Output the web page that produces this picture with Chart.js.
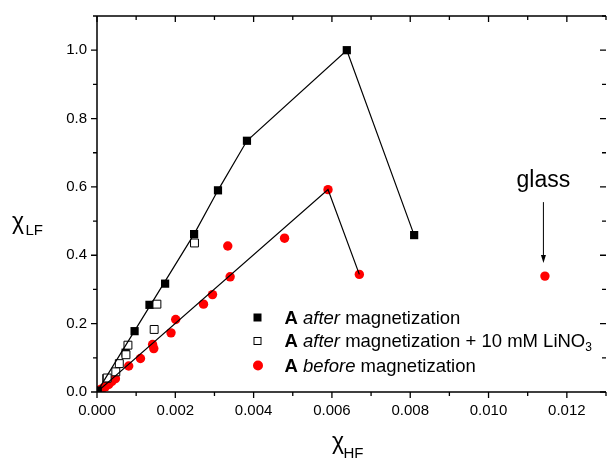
<!DOCTYPE html>
<html>
<head>
<meta charset="utf-8">
<script src="https://cdn.jsdelivr.net/npm/chart.js@4"></script>
<style>
html, body { margin: 0; padding: 0; background: #fff; }
</style>
</head>
<body>
<canvas id="scatterChart" width="607" height="459"></canvas>
<script>
// A after magnetization (filled squares)
var afterX = [0.00002, 0.00024, 0.00073, 0.00096, 0.00134, 0.00174, 0.00248, 0.00309, 0.00383, 0.00638, 0.00810];
var afterY = [0.004, 0.040, 0.115, 0.178, 0.255, 0.317, 0.462, 0.590, 0.735, 1.000, 0.459];
// A after magnetization + 10 mM LiNO3 (open squares)
var lino3X = [0.00026, 0.00048, 0.00057, 0.00074, 0.00079, 0.00146, 0.00153, 0.00249];
var lino3Y = [0.041, 0.059, 0.083, 0.109, 0.137, 0.183, 0.257, 0.436];
// A before magnetization (red circles)
var beforeX = [0.00002, 0.00008, 0.00013, 0.00021, 0.00030, 0.00038, 0.00047, 0.00081, 0.00111, 0.00142, 0.00145, 0.00189, 0.00201, 0.00272, 0.00295, 0.00334, 0.00340, 0.00479, 0.00590, 0.00670];
var beforeY = [0.003, 0.006, 0.010, 0.015, 0.022, 0.031, 0.039, 0.076, 0.098, 0.139, 0.127, 0.173, 0.212, 0.257, 0.285, 0.427, 0.337, 0.450, 0.592, 0.344];
// glass
var glassX = [0.01144];
var glassY = [0.339];
// guide lines
var afterLineX = [0, 0.00248, 0.00309, 0.00383, 0.00638, 0.00810];
var afterLineY = [0, 0.462, 0.590, 0.735, 1.000, 0.459];
var beforeLineX = [0, 0.00590, 0.00670];
var beforeLineY = [0, 0.592, 0.344];
// ticks
var xTicks = [0, 0.002, 0.004, 0.006, 0.008, 0.010, 0.012];
var yTicks = [0, 0.2, 0.4, 0.6, 0.8, 1.0];
var xMinorStep = 0.001, yMinorStep = 0.1;

function pts(xs, ys) {
    return xs.map(function (x, i) { return {x: x, y: ys[i]}; });
}

var FONT = '"Liberation Sans", Arial, sans-serif';
var RED = 'rgb(255, 0, 0)';

// frame, tick marks, axis titles, legend and the glass note
var extras = {
    id: 'extras',
    afterDraw: function (chart) {
        var ctx = chart.ctx, a = chart.chartArea;
        var xs = chart.scales.x, ys = chart.scales.y;
        ctx.save();
        ctx.strokeStyle = '#000';
        ctx.fillStyle = '#000';
        ctx.lineWidth = 1.5;
        ctx.beginPath();
        ctx.moveTo(a.left, a.top); ctx.lineTo(a.right, a.top);
        ctx.moveTo(a.left, a.top); ctx.lineTo(a.left, a.bottom);
        ctx.moveTo(a.left, a.bottom); ctx.lineTo(a.right, a.bottom);
        ctx.stroke();

        ctx.lineWidth = 1.3;
        ctx.beginPath();
        var i, v, p, len;
        for (i = 0; i <= 13; i++) {
            v = i * xMinorStep;
            p = xs.getPixelForValue(v);
            len = (i % 2 === 0) ? 6 : 4;
            ctx.moveTo(p, a.bottom); ctx.lineTo(p, a.bottom + len);
            ctx.moveTo(p, a.top); ctx.lineTo(p, a.top + len);
        }
        for (i = 0; i <= 11; i++) {
            v = i * yMinorStep;
            p = ys.getPixelForValue(v);
            len = (i % 2 === 0) ? 6 : 4;
            ctx.moveTo(a.left, p); ctx.lineTo(a.left - len, p);
            ctx.moveTo(a.right, p); ctx.lineTo(a.right - len, p);
        }
        ctx.stroke();

        // axis titles
        ctx.textAlign = 'left';
        ctx.textBaseline = 'alphabetic';
        ctx.font = '23px ' + FONT;
        ctx.fillText('χ', 12, 229);
        ctx.font = '15px ' + FONT;
        ctx.fillText('LF', 25.5, 235);
        ctx.font = '23px ' + FONT;
        ctx.fillText('χ', 332, 449);
        ctx.font = '15px ' + FONT;
        ctx.fillText('HF', 343.5, 458);

        // legend
        var lx = 257.5, tx = 284.5;
        var rows = [317.5, 341, 365.5];
        ctx.fillStyle = '#000';
        ctx.fillRect(lx - 4, rows[0] - 4, 8, 8);
        ctx.fillStyle = '#fff';
        ctx.fillRect(lx - 4, rows[1] - 4, 8, 8);
        ctx.lineWidth = 1;
        ctx.strokeRect(lx - 3.5, rows[1] - 3.5, 7, 7);
        ctx.fillStyle = RED;
        ctx.beginPath();
        ctx.arc(lx + 0.5, rows[2], 5, 0, Math.PI * 2);
        ctx.fill();

        function line(y, parts) {
            var x = tx;
            ctx.fillStyle = '#000';
            parts.forEach(function (pt) {
                ctx.font = pt[1] + ' ' + FONT;
                ctx.fillText(pt[0], x, y + (pt[2] || 0));
                x += ctx.measureText(pt[0]).width;
            });
        }
        line(rows[0] + 6, [['A ', 'bold 18.5px'], ['after', 'italic 18.5px'], [' magnetization', '18.5px']]);
        line(rows[1] + 6, [['A ', 'bold 18.5px'], ['after', 'italic 18.5px'], [' magnetization + 10 mM LiNO', '18.5px'], ['3', '12px', 4]]);
        line(rows[2] + 6, [['A ', 'bold 18.5px'], ['before', 'italic 18.5px'], [' magnetization', '18.5px']]);

        // glass note with arrow
        var gx = xs.getPixelForValue(glassX[0]) - 1.5;
        var gy = ys.getPixelForValue(glassY[0]);
        ctx.fillStyle = '#000';
        ctx.font = '23px ' + FONT;
        ctx.textAlign = 'center';
        ctx.fillText('glass', gx, gy - 89);
        ctx.lineWidth = 1;
        ctx.beginPath();
        ctx.moveTo(gx, gy - 74);
        ctx.lineTo(gx, gy - 20);
        ctx.stroke();
        ctx.beginPath();
        ctx.moveTo(gx - 2.5, gy - 21);
        ctx.lineTo(gx + 2.5, gy - 21);
        ctx.lineTo(gx, gy - 13);
        ctx.closePath();
        ctx.fill();
        ctx.restore();
    }
};

function noPad(s) {
    s.paddingLeft = 0; s.paddingRight = 0;
    s.paddingTop = 0; s.paddingBottom = 0;
}

var ctx = document.getElementById('scatterChart').getContext('2d');
var scatterChart = new Chart(ctx, {
    type: 'scatter',
    data: {
        datasets: [{
            label: 'after line',
            data: pts(afterLineX, afterLineY),
            showLine: true,
            borderColor: '#000',
            borderWidth: 1.2,
            pointRadius: 0,
            tension: 0
        }, {
            label: 'before line',
            data: pts(beforeLineX, beforeLineY),
            showLine: true,
            borderColor: '#000',
            borderWidth: 1.2,
            pointRadius: 0,
            tension: 0
        }, {
            label: 'A after magnetization + 10 mM LiNO3',
            data: pts(lino3X, lino3Y),
            pointStyle: 'rect',
            pointRadius: 5.6,
            backgroundColor: '#fff',
            borderColor: '#000',
            borderWidth: 1
        }, {
            label: 'A after magnetization',
            data: pts(afterX, afterY),
            pointStyle: 'rect',
            pointRadius: 5.8,
            backgroundColor: '#000',
            borderWidth: 0
        }, {
            label: 'A before magnetization',
            data: pts(beforeX, beforeY),
            pointStyle: 'circle',
            pointRadius: 4.7,
            backgroundColor: RED,
            borderWidth: 0
        }, {
            label: 'glass',
            data: pts(glassX, glassY),
            pointStyle: 'circle',
            pointRadius: 4.7,
            backgroundColor: RED,
            borderWidth: 0
        }]
    },
    options: {
        responsive: false,
        animation: false,
        layout: { autoPadding: false, padding: { top: 16, right: 1, left: 0, bottom: 0 } },
        plugins: {
            legend: { display: false },
            tooltip: { enabled: false }
        },
        scales: {
            x: {
                type: 'linear',
                min: 0,
                max: 0.013,
                grid: { display: false, drawTicks: false },
                border: { display: false },
                afterBuildTicks: function (s) { s.ticks = xTicks.map(function (v) { return {value: v}; }); },
                afterFit: function (s) { s.height = 67; noPad(s); },
                ticks: {
                    padding: 10,
                    maxRotation: 0,
                    autoSkip: false,
                    color: '#000',
                    font: { family: FONT, size: 15 },
                    callback: function (v) { return Number(v).toFixed(3); }
                }
            },
            y: {
                type: 'linear',
                min: 0,
                max: 1.1,
                grid: { display: false, drawTicks: false },
                border: { display: false },
                afterBuildTicks: function (s) { s.ticks = yTicks.map(function (v) { return {value: v}; }); },
                afterFit: function (s) { s.width = 97; noPad(s); },
                ticks: {
                    padding: 10,
                    color: '#000',
                    font: { family: FONT, size: 15 },
                    callback: function (v) { return Number(v).toFixed(1); }
                }
            }
        }
    },
    plugins: [extras]
});
</script>
</body>
</html>
